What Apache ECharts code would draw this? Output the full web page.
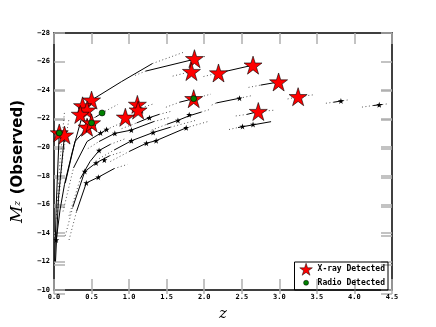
<!DOCTYPE html>
<html>
<head>
<meta charset="utf-8">
<script src="https://cdn.jsdelivr.net/npm/echarts@6/dist/echarts.min.js"></script>
<style>
  html, body { margin: 0; padding: 0; background: #fff; }
  #chart { width: 436px; height: 327px; }
</style>
</head>
<body>
<div id="chart"></div>
<script>
// detected sources [z, M_z]
const xrayPoints = [
  [1.87, -26.2], [1.83, -25.3], [2.19, -25.2], [2.65, -25.75], [2.99, -24.57],
  [3.25, -23.54], [2.72, -22.5], [1.86, -23.4], [1.11, -23.0], [1.12, -22.6],
  [0.95, -22.1], [0.50, -23.3], [0.38, -22.9], [0.44, -22.6], [0.35, -22.3],
  [0.44, -21.4], [0.50, -21.7], [0.07, -21.0], [0.14, -20.85]
];
const radioPoints = [[0.07, -21.0], [0.50, -21.7], [0.64, -22.4], [1.86, -23.4]];

// solid parts of the tracks
const solidTracks = [
  [[0.03, -13.5], [0.08, -15.6], [0.14, -17.4], [0.24, -19.6], [0.36, -21.9], [0.5, -23.3], [0.9, -24.6], [1.31, -25.86]],
  [[1.22, -25.33], [1.86, -26.15]],
  [[2.19, -25.2], [2.65, -25.75]],
  [[2.75, -24.35], [2.99, -24.57]],
  [[3.72, -23.15], [3.85, -23.26]],
  [[4.25, -22.92], [4.37, -22.99]],
  [[2.57, -22.3], [2.72, -22.5]],
  [[2.45, -21.38], [2.89, -21.79]],
  [[2.16, -23.1], [2.47, -23.43]],
  [[1.67, -23.15], [1.86, -23.4]],
  [[1.5, -21.6], [1.65, -21.88], [1.8, -22.2], [1.96, -22.46]],
  [[1.0, -19.7], [1.23, -20.28], [1.36, -20.46], [1.76, -21.36]],
  [[0.8, -19.8], [1.03, -20.45], [1.32, -21.03], [1.55, -21.4]],
  [[0.6, -20.4], [0.81, -20.97], [1.03, -21.2], [1.33, -21.8]],
  [[1.1, -21.7], [1.27, -22.07], [1.4, -22.3]],
  [[0.26, -18.55], [0.44, -20.4], [0.7, -21.24]],
  [[0.35, -17.8], [0.48, -19.0], [0.6, -19.77], [0.75, -20.2]],
  [[0.25, -15.8], [0.41, -18.3], [0.56, -18.9], [0.74, -19.4]],
  [[0.3, -15.5], [0.43, -17.5], [0.59, -17.9], [0.8, -18.5]],
  [[0.01, -12.0], [0.03, -16.0], [0.07, -21.0]],
  [[0.02, -12.0], [0.06, -16.5], [0.14, -20.85]],
  [[0.15, -17.5], [0.28, -20.4], [0.5, -21.7]],
  [[0.55, -22.1], [0.64, -22.4]]
];

// dotted parts of the tracks
const dottedTracks = [
  [[1.31, -25.86], [1.72, -26.64]],
  [[1.08, -25.03], [1.22, -25.33]],
  [[1.86, -26.15], [2.02, -26.37]],
  [[1.58, -24.98], [1.83, -25.3]],
  [[1.99, -24.95], [2.19, -25.2]],
  [[2.59, -24.19], [2.75, -24.35]],
  [[3.11, -23.38], [3.25, -23.54], [3.47, -23.68]],
  [[3.62, -23.08], [3.72, -23.15]],
  [[3.85, -23.26], [3.91, -23.31]],
  [[4.1, -22.81], [4.25, -22.92]],
  [[4.37, -22.99], [4.43, -23.03]],
  [[2.42, -22.19], [2.57, -22.3]],
  [[2.72, -22.5], [2.95, -22.6]],
  [[2.33, -21.24], [2.45, -21.38]],
  [[2.1, -22.95], [2.16, -23.1]],
  [[2.47, -23.43], [2.62, -23.6]],
  [[1.49, -22.8], [1.67, -23.15]],
  [[1.86, -23.4], [2.09, -23.72]],
  [[1.3, -21.2], [1.5, -21.6]],
  [[1.96, -22.46], [2.07, -22.64]],
  [[1.76, -21.36], [2.05, -21.8]],
  [[0.75, -19.0], [1.0, -19.7]],
  [[1.55, -21.4], [1.9, -21.9]],
  [[0.6, -19.2], [0.8, -19.8]],
  [[1.33, -21.8], [1.55, -22.1]],
  [[0.45, -19.9], [0.6, -20.4]],
  [[0.9, -21.3], [1.1, -21.7]],
  [[1.4, -22.3], [1.55, -22.5]],
  [[0.7, -21.24], [0.88, -21.66]],
  [[0.12, -15.5], [0.26, -18.55]],
  [[0.75, -20.2], [0.95, -20.6]],
  [[0.2, -15.2], [0.35, -17.8]],
  [[0.74, -19.4], [0.92, -19.7]],
  [[0.15, -13.8], [0.25, -15.8]],
  [[0.8, -18.5], [0.98, -18.8]],
  [[0.2, -13.5], [0.3, -15.5]],
  [[0.35, -21.8], [0.55, -22.1]],
  [[0.64, -22.4], [0.85, -23.0]],
  [[0.03, -15.0], [0.08, -19.0], [0.14, -22.5]],
  [[0.05, -15.5], [0.12, -19.5], [0.2, -22.0]],
  [[1.12, -22.69], [1.34, -23.06]]
];

// small star markers along the tracks
const trackMarks = [
  [0.03, -13.5], [3.82, -23.24], [4.33, -22.97], [2.47, -23.43], [2.51, -21.45],
  [2.65, -21.6], [1.8, -22.28], [1.65, -21.88], [1.27, -22.07], [1.23, -20.28],
  [1.36, -20.46], [1.76, -21.36], [1.03, -20.45], [1.32, -21.03], [0.81, -20.97],
  [1.03, -21.2], [0.7, -21.24], [0.62, -21.0], [0.6, -19.77], [0.41, -18.3],
  [0.56, -18.9], [0.43, -17.5], [0.59, -17.9], [0.67, -19.1]
];

const STAR = 'path://M0,-10L2.245,-3.09L9.51,-3.09L3.633,1.18L5.878,8.09L0,3.82L-5.878,8.09L-3.633,1.18L-9.51,-3.09L-2.245,-3.09Z';
// small dot inside a padded box, so the legend icon stays small
const DOT = 'path://M-12,-12L-12,-12M12,12L12,12M5,0A5,5 0 1 1 -5,0A5,5 0 1 1 5,0Z';
const GRID = { left: 54, right: 44, top: 33, bottom: 33 };

function tickFont() {
  return { fontFamily: 'DejaVu Sans Mono', fontWeight: 'bold', fontSize: 7, color: '#000', margin: 4 };
}
function tickLine() {
  return { show: true, inside: true, length: 11, lineStyle: { color: '#b0b0b0', width: 1.5 } };
}
// empty overlay axis on grid 1, only there to carry the gray inside ticks
function tickAxis(kind, pos) {
  const a = kind === 'x'
    ? { type: 'value', min: 0, max: 4.5, interval: 0.5 }
    : { type: 'value', min: -28, max: -10, interval: 2, inverse: true };
  return Object.assign(a, {
    gridIndex: 1, position: pos,
    axisLine: { show: false, onZero: false },
    axisTick: tickLine(), axisLabel: { show: false }, splitLine: { show: false }
  });
}

const chart = echarts.init(document.getElementById('chart'));

const series = [];
dottedTracks.forEach(function (pts) {
  series.push({
    type: 'line', data: pts, showSymbol: false, silent: true, z: 2,
    lineStyle: { color: '#555', width: 1, type: [1, 2.5] }
  });
});
solidTracks.forEach(function (pts) {
  series.push({
    type: 'line', data: pts, showSymbol: false, silent: true, z: 3,
    lineStyle: { color: '#000', width: 1 }
  });
});
series.push({
  type: 'scatter', data: trackMarks, symbol: STAR, symbolSize: 6, silent: true, z: 4,
  itemStyle: { color: '#000', opacity: 1 }
});
series.push({
  name: 'X-ray Detected', type: 'scatter', data: xrayPoints, symbol: STAR, symbolSize: 18, z: 5,
  itemStyle: { color: '#ff0000', borderColor: '#000', borderWidth: 0.6, opacity: 1 }
});
series.push({
  name: 'Radio Detected', type: 'scatter', data: radioPoints, symbol: 'circle', symbolSize: 6, z: 6,
  itemStyle: { color: '#008000', borderColor: '#000', borderWidth: 0.6, opacity: 1 }
});

chart.setOption({
  animation: false,
  grid: [Object.assign({}, GRID), Object.assign({}, GRID)],
  legend: {
    data: [
      { name: 'X-ray Detected', icon: STAR, itemStyle: { color: '#ff0000', borderColor: '#000', borderWidth: 0.5 } },
      { name: 'Radio Detected', icon: DOT, itemStyle: { color: '#008000', borderColor: '#000', borderWidth: 0.5 } }
    ],
    orient: 'vertical', right: 48, bottom: 37,
    itemWidth: 13, itemHeight: 12, itemGap: 1,
    padding: [1, 3, 1, 5],
    borderColor: '#000', borderWidth: 1,
    textStyle: { fontFamily: 'DejaVu Sans Mono', fontWeight: 'bold', fontSize: 8, color: '#000' }
  },
  xAxis: [
    {
      type: 'value', min: 0, max: 4.5, interval: 0.5, gridIndex: 0,
      name: 'z', nameLocation: 'middle', nameGap: 17,
      nameTextStyle: { fontFamily: 'DejaVu Serif', fontStyle: 'italic', fontSize: 15, color: '#000' },
      axisLine: { show: true, onZero: false, lineStyle: { color: '#000', width: 1.5 } },
      axisTick: tickLine(),
      axisLabel: Object.assign(tickFont(), { formatter: function (v) { return v.toFixed(1); } }),
      splitLine: { show: false }
    },
    {
      type: 'value', min: 0, max: 4.5, interval: 0.5, position: 'top', gridIndex: 0,
      axisLine: { show: true, onZero: false, lineStyle: { color: '#000', width: 1.5 } },
      axisTick: tickLine(), axisLabel: { show: false }, splitLine: { show: false }
    },
    tickAxis('x', 'bottom'),
    tickAxis('x', 'top')
  ],
  yAxis: [
    {
      type: 'value', min: -28, max: -10, interval: 2, inverse: true, gridIndex: 0,
      name: '{m|M}{s|z}  {b|(Observed)}', nameLocation: 'middle', nameGap: 22, nameRotate: 90,
      nameTextStyle: {
        rich: {
          m: { fontFamily: 'DejaVu Serif', fontStyle: 'italic', fontSize: 17, color: '#000' },
          s: { fontFamily: 'DejaVu Serif', fontStyle: 'italic', fontSize: 9, color: '#000' },
          b: { fontFamily: 'DejaVu Sans', fontWeight: 'bold', fontSize: 15, color: '#000' }
        }
      },
      axisLine: { show: true, onZero: false, lineStyle: { color: '#000', width: 1.5 } },
      axisTick: tickLine(),
      axisLabel: Object.assign(tickFont(), { formatter: function (v) { return String(v).replace('-', '\u2212'); } }),
      splitLine: { show: false }
    },
    {
      type: 'value', min: -28, max: -10, interval: 2, inverse: true, position: 'right', gridIndex: 0,
      axisLine: { show: true, onZero: false, lineStyle: { color: '#000', width: 1.5 } },
      axisTick: tickLine(), axisLabel: { show: false }, splitLine: { show: false }
    },
    tickAxis('y', 'left'),
    tickAxis('y', 'right')
  ],
  series: series
});
</script>
</body>
</html>
